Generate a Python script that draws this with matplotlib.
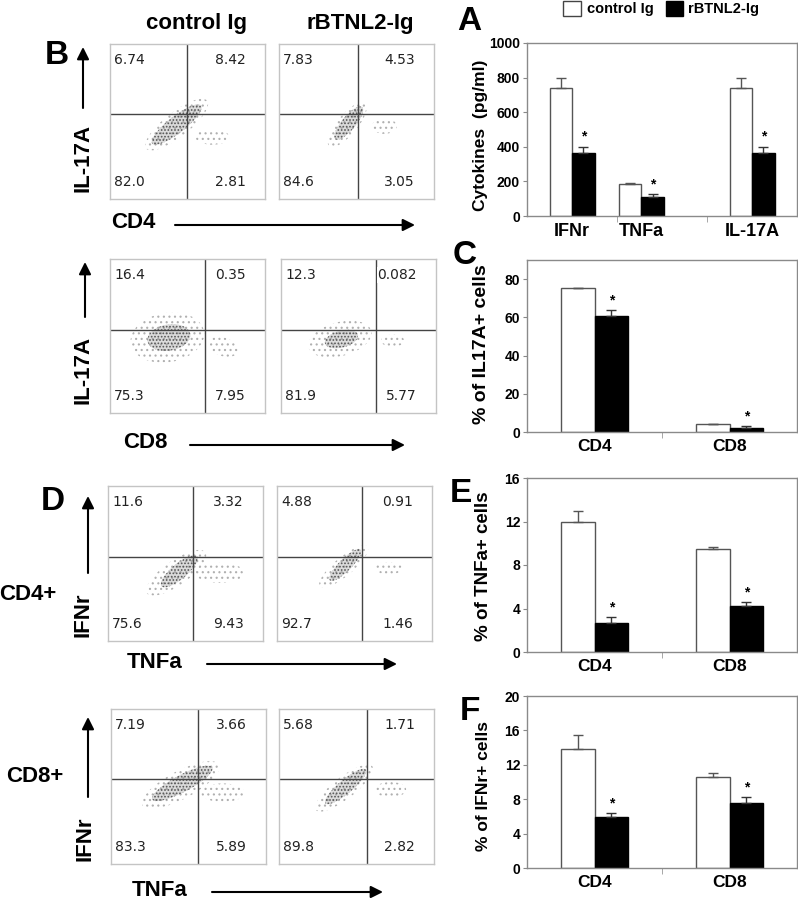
import matplotlib
matplotlib.use("Agg")
import matplotlib.pyplot as plt
from matplotlib.patches import Ellipse, Rectangle
import numpy as np

plt.rcParams['hatch.linewidth'] = 0.8

W, H = 798, 900
BOLD = 'Liberation Sans'
NUMF = 'DejaVu Sans'

# ---------------- data ----------------
A_categories = ['IFNr', 'TNFa', 'IL-17A']
A_control = [740, 185, 740]
A_control_err = [60, 8, 60]
A_rbtnl = [366, 112, 366]
A_rbtnl_err = [35, 13, 35]

cell_categories = ['CD4', 'CD8']
C_control = [75.2, 4.2]
C_control_err = [0.3, 0.2]
C_rbtnl = [60.7, 1.9]
C_rbtnl_err = [3.0, 1.2]

E_control = [12.0, 9.45]
E_control_err = [0.95, 0.2]
E_rbtnl = [2.7, 4.25]
E_rbtnl_err = [0.5, 0.35]

F_control = [13.85, 10.6]
F_control_err = [1.6, 0.45]
F_rbtnl = [5.95, 7.6]
F_rbtnl_err = [0.4, 0.6]

legend_labels = ['control Ig', 'rBTNL2-Ig']

# quadrant percentages: upper-left, upper-right, lower-left, lower-right
B1_control = ['6.74', '8.42', '82.0', '2.81']
B1_rbtnl = ['7.83', '4.53', '84.6', '3.05']
B2_control = ['16.4', '0.35', '75.3', '7.95']
B2_rbtnl = ['12.3', '0.082', '81.9', '5.77']
D1_control = ['11.6', '3.32', '75.6', '9.43']
D1_rbtnl = ['4.88', '0.91', '92.7', '1.46']
D2_control = ['7.19', '3.66', '83.3', '5.89']
D2_rbtnl = ['5.68', '1.71', '89.8', '2.82']

# quadrant gate positions (fraction of axis) per panel: x gate, y gate
gate_x = [0.50, 0.51, 0.61, 0.61, 0.55, 0.55, 0.56, 0.57]
gate_y = [0.55, 0.55, 0.54, 0.54, 0.54, 0.54, 0.55, 0.55]

# event clouds per panel: lists of (cx, cy, width, height, angle, density)
clouds = [
    [(0.43, 0.48, 0.50, 0.16, 38, 'lo'), (0.43, 0.48, 0.40, 0.11, 38, 'hi'), (0.66, 0.40, 0.22, 0.10, 0, 'lo')],
    [(0.44, 0.48, 0.36, 0.13, 50, 'lo'), (0.45, 0.49, 0.27, 0.09, 50, 'hi'), (0.68, 0.47, 0.16, 0.10, 0, 'lo')],
    [(0.37, 0.49, 0.48, 0.32, 10, 'lo'), (0.38, 0.49, 0.28, 0.17, 10, 'hi'), (0.73, 0.43, 0.20, 0.12, -20, 'lo')],
    [(0.38, 0.48, 0.42, 0.22, 15, 'lo'), (0.39, 0.48, 0.22, 0.11, 15, 'hi'), (0.72, 0.47, 0.15, 0.08, 0, 'lo')],
    [(0.44, 0.44, 0.46, 0.16, 35, 'lo'), (0.46, 0.45, 0.30, 0.10, 40, 'hi'), (0.72, 0.44, 0.32, 0.13, 0, 'lo')],
    [(0.43, 0.48, 0.40, 0.12, 40, 'lo'), (0.44, 0.49, 0.28, 0.08, 45, 'hi'), (0.72, 0.47, 0.18, 0.08, 0, 'lo')],
    [(0.45, 0.51, 0.56, 0.18, 28, 'lo'), (0.46, 0.52, 0.44, 0.11, 28, 'hi'), (0.72, 0.46, 0.28, 0.12, 0, 'lo')],
    [(0.42, 0.49, 0.46, 0.14, 38, 'lo'), (0.43, 0.50, 0.34, 0.09, 40, 'hi'), (0.72, 0.48, 0.20, 0.10, 0, 'lo')],
]

fig = plt.figure(figsize=(W / 100, H / 100), dpi=100)


def ax_px(x0, y0, x1, y1):
    return fig.add_axes([x0 / W, 1 - y1 / H, (x1 - x0) / W, (y1 - y0) / H])


# ---------------- flow panels ----------------
flow_boxes = [
    (110, 44, 265, 199), (279, 44, 434, 199),
    (110, 259, 265, 413), (281, 259, 436, 413),
    (108, 486, 263, 641), (277, 486, 432, 641),
    (111, 709, 266, 864), (279, 709, 434, 864),
]
flow_numbers = [B1_control, B1_rbtnl, B2_control, B2_rbtnl,
                D1_control, D1_rbtnl, D2_control, D2_rbtnl]

for i, box in enumerate(flow_boxes):
    ax = ax_px(*box)
    ax.set_xlim(0, 1)
    ax.set_ylim(0, 1)
    ax.set_xticks([])
    ax.set_yticks([])
    for s in ax.spines.values():
        s.set_color('#c4c4c4')
        s.set_linewidth(1.0)
    for (cx, cy, w, h, ang, dens) in clouds[i]:
        if dens == 'hi':
            ax.add_patch(Ellipse((cx, cy), w, h, angle=ang, facecolor='#9a9a9a',
                                 alpha=0.35, edgecolor='none', lw=0))
            ax.add_patch(Ellipse((cx, cy), w, h, angle=ang, facecolor='none',
                                 edgecolor='#555555', hatch='.....', lw=0))
        else:
            ax.add_patch(Ellipse((cx, cy), w, h, angle=ang, facecolor='none',
                                 edgecolor='#b0b0b0', hatch='...', lw=0))
    ax.axvline(gate_x[i], color='#444444', lw=1.0)
    ax.axhline(gate_y[i], color='#444444', lw=1.0)
    pw = box[2] - box[0]
    ph = box[3] - box[1]
    ul, ur, ll, lr = flow_numbers[i]
    tk = dict(fontsize=10, family=NUMF, color='#222222', va='center',
              bbox=dict(facecolor='white', edgecolor='none', pad=0.5))
    ax.text(4 / pw, 1 - 16 / ph, ul, ha='left', **tk)
    ax.text(1 - 19 / pw, 1 - 16 / ph, ur, ha='right', **tk)
    ax.text(4 / pw, 17 / ph, ll, ha='left', **tk)
    ax.text(1 - 19 / pw, 17 / ph, lr, ha='right', **tk)


# ---------------- bar charts ----------------
def bar_panel(box, cats, xpos, ctrl, ctrl_err, rb, rb_err, ylim, yticks, catsize):
    ax = ax_px(*box)
    xpos = np.asarray(xpos, dtype=float)
    bw = 0.25
    ax.bar(xpos - bw / 2, ctrl, bw, color='white', edgecolor='#555555', lw=1.0, zorder=2)
    ax.bar(xpos + bw / 2, rb, bw, color='black', edgecolor='black', lw=1.0, zorder=2)
    ax.errorbar(xpos - bw / 2, ctrl, yerr=[np.zeros(len(ctrl)), ctrl_err], fmt='none',
                ecolor='#555555', elinewidth=1.0, capsize=3.5, capthick=1.0, zorder=3)
    ax.errorbar(xpos + bw / 2, rb, yerr=[np.zeros(len(rb)), rb_err], fmt='none',
                ecolor='#333333', elinewidth=1.0, capsize=3.5, capthick=1.0, zorder=3)
    for x, v, e in zip(xpos + bw / 2, rb, rb_err):
        ax.annotate('*', (x, v + e), xytext=(0, 2), textcoords='offset points',
                    ha='center', va='bottom', fontsize=10, family=BOLD, fontweight='bold')
    n = len(cats)
    ax.set_xlim(-0.5, n - 0.5)
    ax.set_ylim(*ylim)
    ax.set_yticks(yticks)
    ax.set_yticklabels([str(t) for t in yticks], fontsize=10, family=BOLD, fontweight='bold')
    ax.set_xticks(xpos)
    ax.set_xticklabels(cats, fontsize=catsize, family=BOLD, fontweight='bold')
    ax.set_xticks(np.arange(0.5, n - 0.5, 1.0), minor=True)
    ax.tick_params(axis='x', which='major', length=0, pad=5)
    ax.tick_params(axis='x', which='minor', length=4, color='#999999', direction='out')
    ax.tick_params(axis='y', which='major', length=3, color='#888888', pad=2)
    for s in ax.spines.values():
        s.set_color('#8a8a8a')
        s.set_linewidth(1.0)
    return ax


bar_panel((527, 43, 797, 216), A_categories, [0, 0.77, 2], A_control, A_control_err,
          A_rbtnl, A_rbtnl_err, (0, 1000), [0, 200, 400, 600, 800, 1000], 13)
bar_panel((527, 260, 797, 432), cell_categories, [0, 1], C_control, C_control_err,
          C_rbtnl, C_rbtnl_err, (0, 90), [0, 20, 40, 60, 80], 12.5)
bar_panel((527, 478, 797, 652), cell_categories, [0, 1], E_control, E_control_err,
          E_rbtnl, E_rbtnl_err, (0, 16), [0, 4, 8, 12, 16], 12.5)
bar_panel((527, 696, 797, 868), cell_categories, [0, 1], F_control, F_control_err,
          F_rbtnl, F_rbtnl_err, (0, 20), [0, 4, 8, 12, 16, 20], 12.5)

# ---------------- overlay for labels and arrows ----------------
ov = fig.add_axes([0, 0, 1, 1])
ov.set_xlim(0, W)
ov.set_ylim(H, 0)
ov.axis('off')


def T(x, y, s, size, rot=0, ha='center', weight='bold'):
    ov.text(x, y, s, fontsize=size, family=BOLD, fontweight=weight, rotation=rot,
            ha=ha, va='center')


def arrow(x0, y0, x1, y1):
    ov.annotate('', xy=(x1, y1), xytext=(x0, y0),
                arrowprops=dict(arrowstyle='-|>', lw=1.5, color='black',
                                mutation_scale=18, shrinkA=0, shrinkB=0))


T(197, 23, legend_labels[0], 16)
T(360, 23, legend_labels[1], 16)

for s, x, y in [('B', 57, 56), ('D', 53, 502), ('A', 469, 22), ('C', 465, 256),
                ('E', 461, 494), ('F', 470, 711)]:
    T(x, y, s, 24)

T(83, 158, 'IL-17A', 16, rot=90)
T(83, 370, 'IL-17A', 16, rot=90)
T(83, 615, 'IFNr', 16, rot=90)
T(85, 839, 'IFNr', 16, rot=90)
arrow(83, 108, 83, 47)
arrow(85, 317, 85, 262)
arrow(88, 573, 88, 496)
arrow(88, 797, 88, 717)

T(133, 222, 'CD4', 16)
T(145, 443, 'CD8', 16)
T(155, 662, 'TNFa', 16)
T(160, 890, 'TNFa', 16)
arrow(175, 225, 415, 225)
arrow(190, 445, 405, 445)
arrow(207, 664, 397, 664)
arrow(212, 892, 383, 892)

T(28, 595, 'CD4+', 16)
T(35, 777, 'CD8+', 16)

# bar chart y labels
T(480, 135, 'Cytokines  (pg/ml)', 12.5, rot=90)
T(482, 344, '% of IL17A+ cells', 14, rot=90)
T(483, 566, '% of TNFa+ cells', 13.5, rot=90)
T(483, 786, '% of IFNr+ cells', 12.5, rot=90)

# legend
ov.add_patch(Rectangle((563, 1), 18, 15, facecolor='white', edgecolor='#444444', lw=1.0))
ov.add_patch(Rectangle((666, 1), 17, 15, facecolor='black', edgecolor='black', lw=1.0))
T(587, 9, legend_labels[0], 10.5, ha='left')
T(688, 9, legend_labels[1], 10.5, ha='left')

fig.savefig('out.png', dpi=100)
